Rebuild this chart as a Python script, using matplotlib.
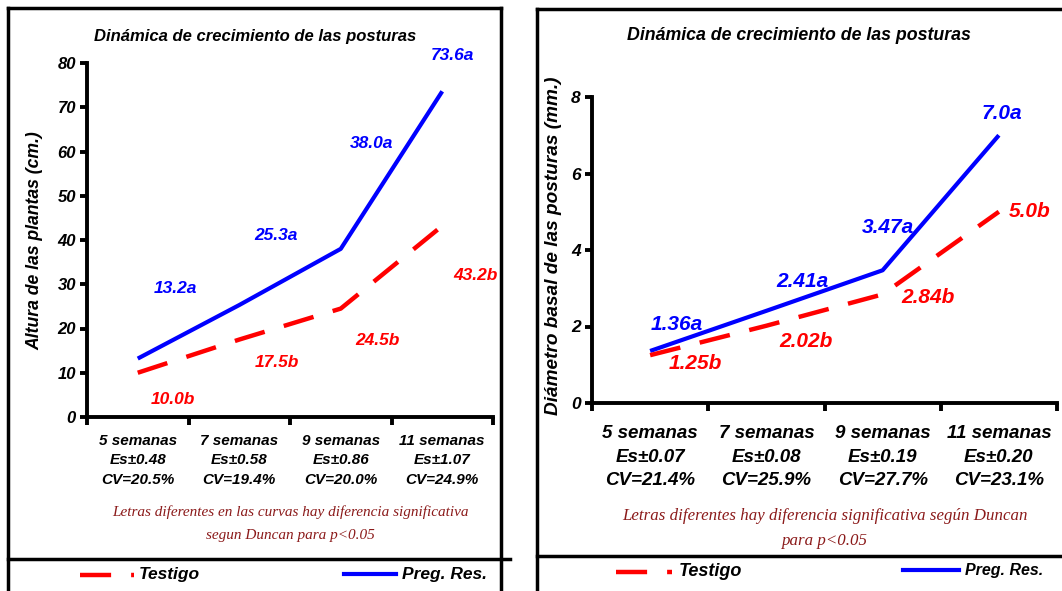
import numpy as np
import matplotlib
matplotlib.use("Agg")
import matplotlib.pyplot as plt
from matplotlib.lines import Line2D

# datos
semanas = ["5 semanas", "7 semanas", "9 semanas", "11 semanas"]
es_alt = ["0.48", "0.58", "0.86", "1.07"]
cv_alt = ["20.5%", "19.4%", "20.0%", "24.9%"]
altura_res = [13.2, 25.3, 38.0, 73.6]
altura_tes = [10.0, 17.5, 24.5, 43.2]
lbl_alt_res = ["13.2a", "25.3a", "38.0a", "73.6a"]
lbl_alt_tes = ["10.0b", "17.5b", "24.5b", "43.2b"]

es_dia = ["0.07", "0.08", "0.19", "0.20"]
cv_dia = ["21.4%", "25.9%", "27.7%", "23.1%"]
diam_res = [1.36, 2.41, 3.47, 7.0]
diam_tes = [1.25, 2.02, 2.84, 5.0]
lbl_dia_res = ["1.36a", "2.41a", "3.47a", "7.0a"]
lbl_dia_tes = ["1.25b", "2.02b", "2.84b", "5.0b"]

plt.rcParams["font.family"] = ["Liberation Sans", "DejaVu Sans"]
plt.rcParams["font.weight"] = "bold"
plt.rcParams["font.style"] = "italic"

W, H = 1062, 591
fig = plt.figure(figsize=(W / 100, H / 100), dpi=100)
BLUE = "#0000ff"
RED = "#ff0000"
NOTE = "#8b1a1a"
DASH = (0, (7, 4.5))
LW_B = 3.0
LW_R = 3.2
LW_AX = 2.8


def fx(px):
    return px / W


def fy(py):
    return 1 - py / H


def box_line(x0, y0, x1, y1):
    fig.add_artist(Line2D([fx(x0), fx(x1)], [fy(y0), fy(y1)], color="black", lw=2.5,
                          transform=fig.transFigure, solid_capstyle="projecting"))


def panel(rect, res, tes, lres, ltes, off_res, off_tes, ymax, ystep, es, cv,
          tick_fs, xl_fs, lab_fs, pad):
    ax = fig.add_axes(rect)
    x = np.arange(len(semanas))
    ax.plot(x, res, color=BLUE, lw=LW_B, solid_capstyle="butt")
    ax.plot(x, tes, color=RED, lw=LW_R, linestyle=DASH)
    for i in range(len(x)):
        ax.annotate(lres[i], (x[i], res[i]), xytext=off_res[i], textcoords="offset pixels",
                    ha="center", va="center", color=BLUE, fontsize=lab_fs, annotation_clip=False)
        ax.annotate(ltes[i], (x[i], tes[i]), xytext=off_tes[i], textcoords="offset pixels",
                    ha="center", va="center", color=RED, fontsize=lab_fs, annotation_clip=False)
    ax.set_xlim(-0.5, len(x) - 0.5)
    ax.set_ylim(0, ymax)
    ax.set_yticks(np.arange(0, ymax + 0.1, ystep))
    ax.set_xticks(x)
    ax.set_xticklabels([f"{s}\nEs±{e}\nCV={c}" for s, e, c in zip(semanas, es, cv)],
                       fontsize=xl_fs, linespacing=1.5)
    ax.set_xticks(np.arange(-0.5, len(x)), minor=True)
    ax.tick_params(axis="x", which="major", length=0, pad=pad)
    ax.tick_params(axis="x", which="minor", length=6, width=LW_AX, direction="out")
    ax.tick_params(axis="y", length=5, width=LW_AX, direction="out", labelsize=tick_fs, pad=3)
    for s in ["top", "right"]:
        ax.spines[s].set_visible(False)
    for s in ["left", "bottom"]:
        ax.spines[s].set_linewidth(LW_AX)
    ax.patch.set_alpha(0)
    return ax


# panel izquierdo
ax1 = panel([fx(87), fy(417), fx(493) - fx(87), fy(63) - fy(417)],
            altura_res, altura_tes, lbl_alt_res, lbl_alt_tes,
            [(38, 70), (37, 70), (31, 105), (10, 36)],
            [(35, -27), (38, -23), (37, -32), (33, -50)],
            80, 10, es_alt, cv_alt, 12, 11, 12.5, 12)
fig.text(fx(35), fy(241), "Altura de las plantas (cm.)", rotation=90, ha="center", va="center",
         fontsize=12.7)
fig.text(fx(255), fy(37), "Dinámica de crecimiento de las posturas", ha="center", va="center",
         fontsize=12)
fig.text(fx(290), fy(512), "Letras diferentes en las curvas hay diferencia significativa",
         ha="center", va="center", fontsize=11, color=NOTE, family="Liberation Serif", weight="normal")
fig.text(fx(290), fy(535), "segun Duncan para p<0.05",
         ha="center", va="center", fontsize=11, color=NOTE, family="Liberation Serif", weight="normal")

# panel derecho
ax2 = panel([fx(592), fy(403), fx(1057) - fx(592), fy(97) - fy(403)],
            diam_res, diam_tes, lbl_dia_res, lbl_dia_tes,
            [(27, 26), (36, 29), (5, 43), (3, 22)],
            [(45, -8), (40, -16), (45, -3), (31, 0)],
            8, 2, es_dia, cv_dia, 12.5, 13.5, 15, 16)
fig.text(fx(553), fy(246), "Diámetro basal de las posturas (mm.)", rotation=90, ha="center",
         va="center", fontsize=13.7)
fig.text(fx(799), fy(35), "Dinámica de crecimiento de las posturas", ha="center", va="center",
         fontsize=12.8)
fig.text(fx(825), fy(516), "Letras diferentes hay diferencia significativa según Duncan",
         ha="center", va="center", fontsize=12.2, color=NOTE, family="Liberation Serif", weight="normal")
fig.text(fx(825), fy(541), "para p<0.05",
         ha="center", va="center", fontsize=12.2, color=NOTE, family="Liberation Serif", weight="normal")

# marcos
box_line(8, 8, 501, 8)
box_line(8, 8, 8, 591)
box_line(501, 8, 501, 591)
box_line(8, 559, 510, 559)
box_line(537, 9, 1062, 9)
box_line(537, 9, 537, 591)
box_line(537, 556, 1062, 556)


# leyendas
def legend_item(x0, x1, y, label, xt, fs, **kw):
    fig.add_artist(Line2D([fx(x0), fx(x1)], [fy(y), fy(y)], transform=fig.transFigure, **kw))
    fig.text(fx(xt), fy(y), label, ha="left", va="center", fontsize=fs)


legend_item(80, 134, 575, "Testigo", 139, 12.5, color=RED, lw=LW_R, linestyle=DASH)
legend_item(344, 396, 574, "Preg. Res.", 402, 12.5, color=BLUE, lw=LW_B)
legend_item(616, 672, 572, "Testigo", 679, 13, color=RED, lw=LW_R, linestyle=DASH)
legend_item(903, 959, 570, "Preg. Res.", 965, 11.5, color=BLUE, lw=LW_B)

fig.savefig("out.png", dpi=100)
